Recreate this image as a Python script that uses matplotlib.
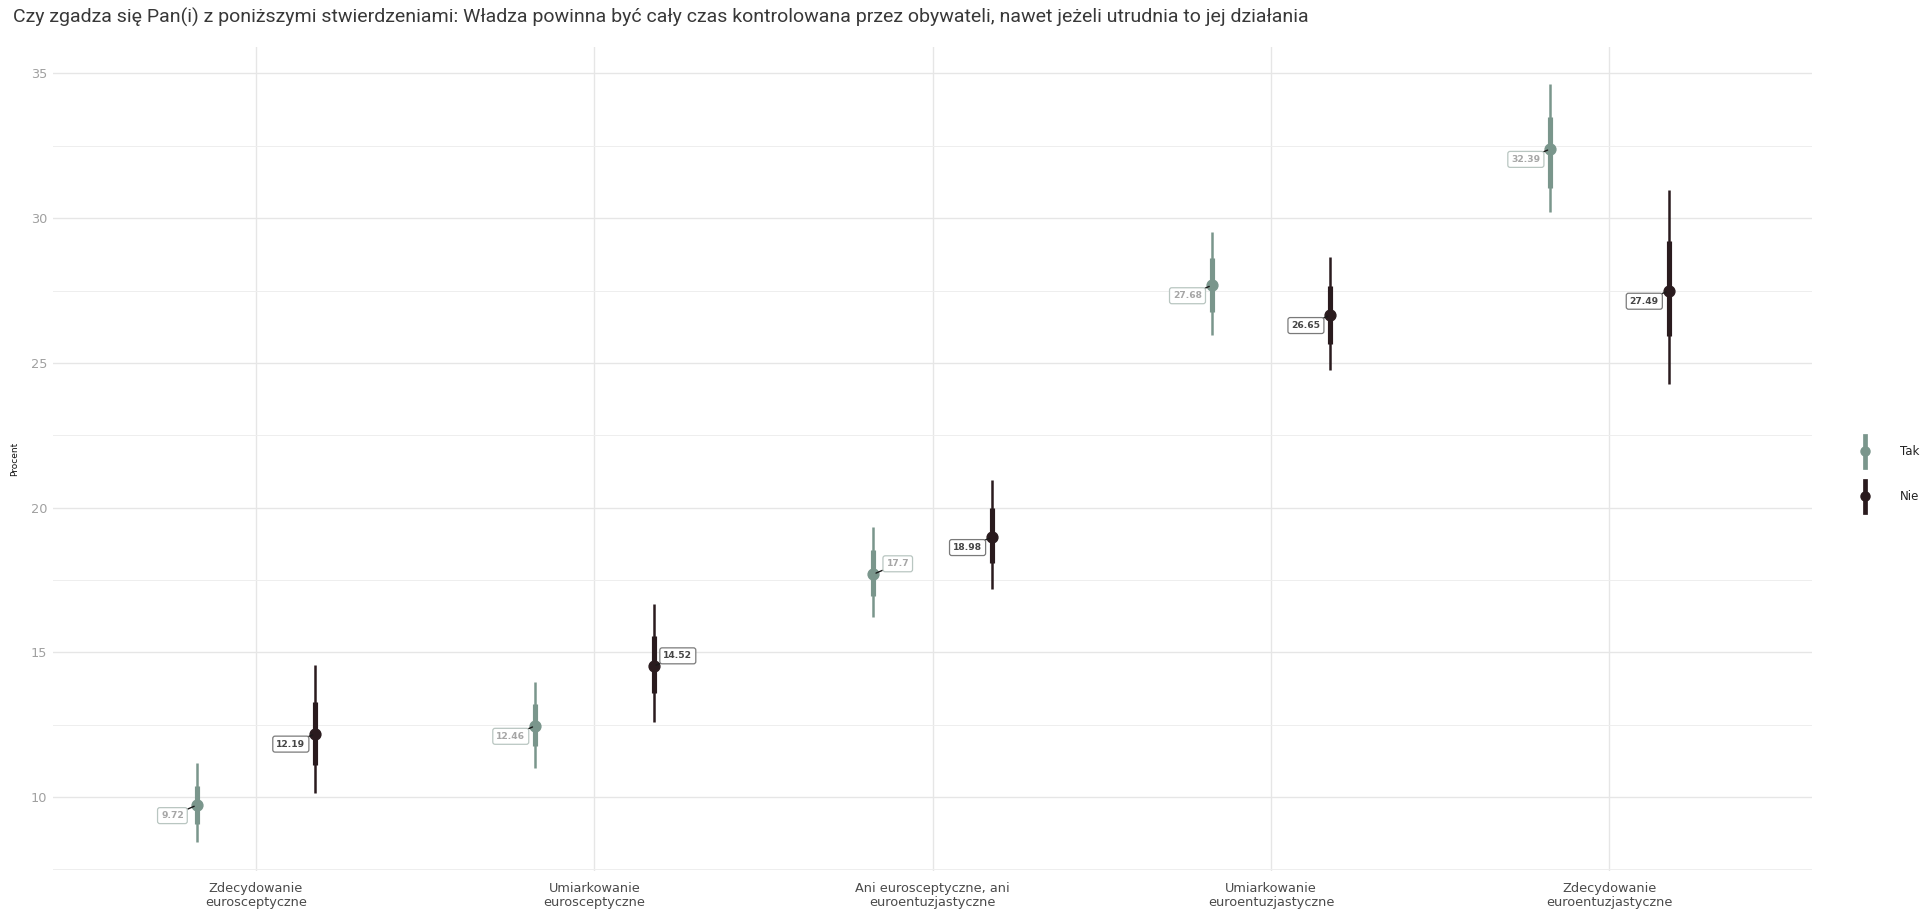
import matplotlib
matplotlib.use("Agg")
import matplotlib.pyplot as plt
from matplotlib.lines import Line2D
from matplotlib.legend_handler import HandlerBase
import numpy as np

# --- data -------------------------------------------------------------
categories = [
    "Zdecydowanie\neurosceptyczne",
    "Umiarkowanie\neurosceptyczne",
    "Ani eurosceptyczne, ani\neuroentuzjastyczne",
    "Umiarkowanie\neuroentuzjastyczne",
    "Zdecydowanie\neuroentuzjastyczne",
]
groups = ["Tak", "Nie"]

tak_mean = [9.72, 12.46, 17.70, 27.68, 32.39]
tak_inner_lo = [9.07, 11.77, 16.93, 26.76, 31.03]
tak_inner_hi = [10.38, 13.21, 18.53, 28.62, 33.48]
tak_outer_lo = [8.44, 11.01, 16.21, 25.96, 30.23]
tak_outer_hi = [11.18, 13.97, 19.33, 29.51, 34.62]

nie_mean = [12.19, 14.52, 18.98, 26.65, 27.49]
nie_inner_lo = [11.10, 13.59, 18.07, 25.67, 25.92]
nie_inner_hi = [13.29, 15.57, 19.97, 27.65, 29.21]
nie_outer_lo = [10.13, 12.58, 17.18, 24.74, 24.27]
nie_outer_hi = [14.56, 16.67, 20.94, 28.67, 30.99]

title = ("Czy zgadza się Pan(i) z poniższymi stwierdzeniami: Władza powinna być "
         "cały czas kontrolowana przez obywateli, nawet jeżeli utrudnia to jej działania")
y_label = "Procent"
y_ticks = [10, 15, 20, 25, 30, 35]

# --- styling ----------------------------------------------------------
colors = {"Tak": "#7a968c", "Nie": "#2a1b1e"}
label_text = {"Tak": "#a6a6a6", "Nie": "#454545"}
label_edge = {"Tak": "#b9c6c1", "Nie": "#7a7a7a"}
dodge = 0.175
# label side per point: -1 = left/below, +1 = right/above
label_side = {"Tak": [-1, -1, 1, -1, -1], "Nie": [-1, 1, -1, -1, -1]}

fig = plt.figure(figsize=(19.24, 9.11), dpi=100)
fig.patch.set_facecolor("white")
ax = fig.add_axes([0.0275, 0.044, 0.9145, 0.904])

x = np.arange(len(categories))

series = {
    "Tak": (tak_mean, tak_inner_lo, tak_inner_hi, tak_outer_lo, tak_outer_hi),
    "Nie": (nie_mean, nie_inner_lo, nie_inner_hi, nie_outer_lo, nie_outer_hi),
}

for g in groups:
    mean, ilo, ihi, olo, ohi = (np.array(a) for a in series[g])
    xs = x + (-dodge if g == "Tak" else dodge)
    c = colors[g]
    ax.vlines(xs, olo, ohi, color=c, lw=1.8, zorder=3)
    ax.vlines(xs, ilo, ihi, color=c, lw=3.7, zorder=4)
    ax.plot(xs, mean, "o", color=c, ms=7.8, zorder=5)
    for i in range(len(xs)):
        s = label_side[g][i]
        ax.annotate(
            f"{mean[i]:g}",
            xy=(xs[i], mean[i]),
            xytext=(s * 17.5, s * 7.5),
            textcoords="offset points",
            ha="center", va="center",
            fontsize=6.6, fontweight="bold", color=label_text[g],
            family="DejaVu Sans",
            bbox=dict(boxstyle="round,pad=0.38,rounding_size=0.25",
                      fc="white", ec=label_edge[g], lw=0.9),
            arrowprops=dict(arrowstyle="-", color="#1a1a1a", lw=1.0,
                            shrinkA=0, shrinkB=2),
            zorder=6,
        )

ax.set_xlim(-0.6, len(categories) - 0.4)
ax.set_ylim(7.45, 35.9)
ax.set_xticks(x)
ax.set_xticklabels(categories, family="DejaVu Sans", fontsize=9.3,
                   color="#4a4a4a", linespacing=1.1)
ax.set_yticks(y_ticks)
ax.set_yticks(np.arange(7.5, 36, 5), minor=True)
ax.tick_params(axis="y", labelsize=9.3, labelcolor="#a0a0a0", length=0, pad=4)
ax.tick_params(axis="x", length=0, pad=8)
ax.tick_params(which="minor", length=0)
for t in ax.get_yticklabels():
    t.set_family("DejaVu Sans")

ax.grid(which="major", color="#e6e6e6", lw=1.0)
ax.grid(which="minor", axis="y", color="#eeeeee", lw=0.7)
ax.set_axisbelow(True)
for sp in ax.spines.values():
    sp.set_visible(False)

ax.set_ylabel(y_label, family="DejaVu Sans", fontsize=6.5, color="#111111")
ax.yaxis.set_label_coords(-0.019, 0.5)
fig.text(0.0065, 0.981, title, family="Roboto", fontsize=14.0, color="#383838",
         ha="left", va="center")


class RangeKey(HandlerBase):
    def create_artists(self, legend, orig_handle, xdescent, ydescent,
                       width, height, fontsize, trans):
        cx = width / 2 - xdescent
        c = orig_handle.get_color()
        line = Line2D([cx, cx], [-ydescent - height * 0.35, height * 1.35 - ydescent],
                      color=c, lw=3.4, transform=trans)
        dot = Line2D([cx], [height / 2 - ydescent], marker="o", ms=6.5,
                     color=c, transform=trans)
        return [line, dot]


handles = [Line2D([], [], color=colors[g]) for g in groups]
leg = fig.legend(handles, groups, handler_map={Line2D: RangeKey()},
                 loc="center left", bbox_to_anchor=(0.9656, 0.480),
                 frameon=False, handlelength=1.2, handleheight=2.0,
                 labelspacing=2.3, handletextpad=2.4, borderpad=0,
                 borderaxespad=0,
                 prop=dict(family="DejaVu Sans", size=8.5))
for t in leg.get_texts():
    t.set_color("#222222")

fig.savefig("out.png", dpi=100, facecolor="white")
